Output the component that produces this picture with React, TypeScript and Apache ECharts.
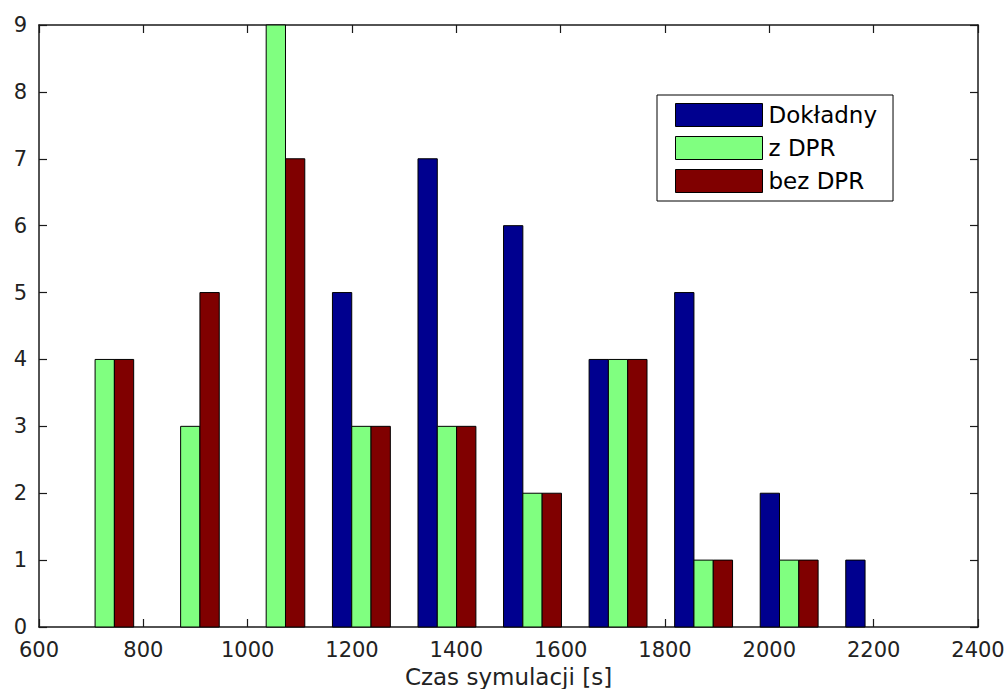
import React, { useEffect, useRef } from "react";
import * as echarts from "echarts";

const binCenters = [726, 890, 1054, 1218, 1382, 1546, 1710, 1874, 2038, 2202];
const seriesNames = ["Dokładny", "z DPR", "bez DPR"];
const dokladny = [0, 0, 0, 5, 7, 6, 4, 5, 2, 1];
const zDPR = [4, 3, 9, 3, 3, 2, 4, 1, 1, 0];
const bezDPR = [4, 5, 7, 3, 3, 2, 4, 1, 1, 0];
const seriesColors = ["#00008F", "#80FF80", "#800000"];
const xLabelText = "Czas symulacji [s]";

const BAR_W = 37; // width of one bar in data units

const FONT = "DejaVu Sans";
const AX = "#1a1a1a";

export default function App() {
  const ref = useRef<HTMLDivElement>(null);
  useEffect(() => {
    if (!ref.current) return;
    const chart = echarts.init(ref.current, undefined, { renderer: "svg" });
    const all = [dokladny, zDPR, bezDPR];
    const series = all.map((vals, si) => ({
      type: "custom",
      name: seriesNames[si],
      xAxisIndex: 0,
      yAxisIndex: 0,
      itemStyle: { color: seriesColors[si] },
      data: binCenters.map((c, i) => [c, vals[i]]),
      renderItem: (params: any, api: any) => {
        const x = api.value(0);
        const y = api.value(1);
        if (!y) return null;
        const off = si - 1;
        const tl = api.coord([x + (off - 0.5) * BAR_W, y]);
        const br = api.coord([x + (off + 0.5) * BAR_W, 0]);
        return {
          type: "rect",
          shape: { x: tl[0], y: tl[1], width: br[0] - tl[0], height: br[1] - tl[1] },
          style: { fill: seriesColors[si], stroke: "#000", lineWidth: 1 },
        };
      },
    }));

    const tickStyle = { show: true, inside: true, length: 8, lineStyle: { color: AX, width: 1.2 } };
    const lineStyle = { show: true, onZero: false, lineStyle: { color: AX, width: 1.5 } };

    chart.setOption({
      animation: false,
      backgroundColor: "#fff",
      grid: {
        left: 39,
        top: 25,
        width: 939,
        height: 602,
        containLabel: false,
        outerBoundsMode: "none",
      },
      legend: {
        orient: "vertical",
        left: 657,
        top: 95,
        padding: [8, 16, 8, 18],
        itemGap: 9,
        itemWidth: 87,
        itemHeight: 23,
        borderColor: "#000",
        borderWidth: 1,
        backgroundColor: "#fff",
        textStyle: { fontFamily: FONT, fontSize: 23, color: "#000", padding: [0, 0, 0, 1] },
        data: seriesNames.map((n, i) => ({
          name: n,
          icon: "rect",
          itemStyle: { color: seriesColors[i], borderColor: "#000", borderWidth: 1 },
        })),
      },
      xAxis: [
        {
          type: "value",
          min: 600,
          max: 2400,
          interval: 200,
          position: "bottom",
          axisLine: lineStyle,
          axisTick: tickStyle,
          splitLine: { show: false },
          axisLabel: {
            margin: 14,
            fontFamily: FONT,
            fontSize: 21,
            lineHeight: 18,
            color: "#222",
            formatter: (v: number) => String(v),
          },
          name: xLabelText,
          nameLocation: "middle",
          nameGap: 35,
          nameTextStyle: { fontFamily: FONT, fontSize: 23, color: "#222" },
        },
        {
          type: "value",
          min: 600,
          max: 2400,
          interval: 200,
          position: "top",
          axisLine: lineStyle,
          axisTick: tickStyle,
          splitLine: { show: false },
          axisLabel: { show: false },
        },
      ],
      yAxis: [
        {
          type: "value",
          min: 0,
          max: 9,
          interval: 1,
          position: "left",
          axisLine: lineStyle,
          axisTick: tickStyle,
          splitLine: { show: false },
          axisLabel: {
            margin: 12,
            fontFamily: FONT,
            fontSize: 21,
            lineHeight: 18,
            color: "#222",
            formatter: (v: number) => String(v),
          },
        },
        {
          type: "value",
          min: 0,
          max: 9,
          interval: 1,
          position: "right",
          axisLine: lineStyle,
          axisTick: tickStyle,
          splitLine: { show: false },
          axisLabel: { show: false },
        },
      ],
      series,
    });
    return () => chart.dispose();
  }, []);
  return (
    <div
      ref={ref}
      style={{ position: "fixed", left: 0, top: 0, width: 1008, height: 689, background: "#fff" }}
    />
  );
}
